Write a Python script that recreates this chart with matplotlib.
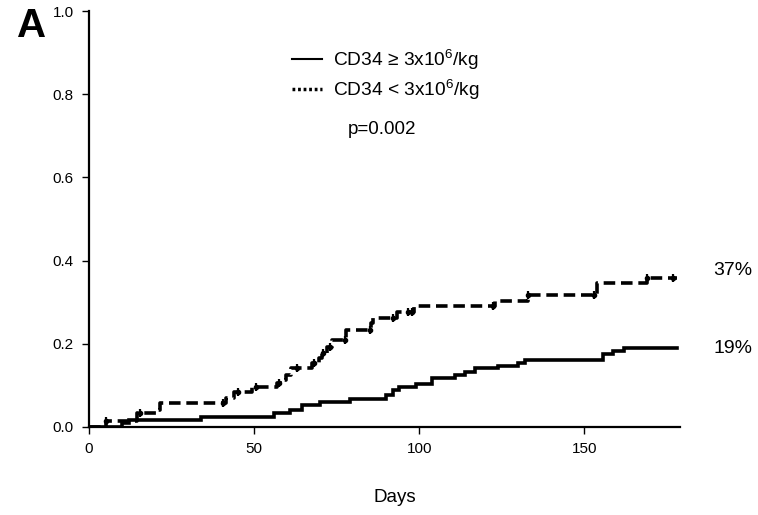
import matplotlib
matplotlib.use("Agg")
import matplotlib.pyplot as plt
import numpy as np
from matplotlib.lines import Line2D

plt.rcParams['font.family'] = ['Liberation Sans', 'DejaVu Sans']
plt.rcParams['mathtext.fontset'] = 'custom'
plt.rcParams['mathtext.rm'] = 'Liberation Sans'
plt.rcParams['mathtext.it'] = 'Liberation Sans'

# CD34 >= 3x10^6/kg (solid)
days_hi = [0, 10, 12, 34, 56, 61, 64.5, 70, 79, 90, 92, 94, 99, 104, 111, 114,
           117, 124, 130, 132, 155.7, 158.7, 162, 178]
inc_hi = [0, 0.009, 0.017, 0.025, 0.033, 0.04, 0.053, 0.06, 0.067, 0.077, 0.089,
          0.097, 0.103, 0.118, 0.125, 0.132, 0.141, 0.146, 0.154, 0.162, 0.175,
          0.183, 0.19, 0.19]

# CD34 < 3x10^6/kg (dashed)
days_lo = [0, 5, 14.5, 21, 21.5, 41.6, 44, 49.5, 57, 58.6, 59.6, 61.3, 67.6, 69.7,
           70.6, 72, 73.6, 77.8, 85.4, 86, 93.2, 98.3, 123, 133, 154, 169, 178]
inc_lo = [0, 0.014, 0.033, 0.04, 0.057, 0.069, 0.084, 0.097, 0.105, 0.112, 0.125,
          0.141, 0.153, 0.165, 0.178, 0.192, 0.208, 0.234, 0.249, 0.263, 0.276,
          0.29, 0.302, 0.318, 0.346, 0.358, 0.358]
# censored observations on the dashed curve
censor_lo = [5, 15.5, 40.5, 45, 50.5, 57.5, 63, 68, 71, 73, 77.5, 85, 92, 96.6,
             97.7, 122.5, 133, 153, 169, 177]

xticks = [0, 50, 100, 150]
yticks = [0.0, 0.2, 0.4, 0.6, 0.8, 1.0]

fig = plt.figure(figsize=(7.58, 5.15), dpi=100)
ax = fig.add_axes([89/758, 1-427/515, (680-89)/758, (427-11)/515])

ax.step(days_hi, inc_hi, where='post', color='black', lw=2.6, solid_joinstyle='miter')
ax.step(days_lo, inc_lo, where='post', color='black', lw=2.6,
        linestyle=(0, (3.2, 1.6)))

# censor marks
idx = np.searchsorted(days_lo, censor_lo, side='right') - 1
cy = np.array(inc_lo)[idx]
ax.plot(censor_lo, cy, linestyle='none', marker='|', ms=6, mew=1.6, color='black')
ax.plot(censor_lo, cy, linestyle='none', marker='o', ms=3, color='black')

ax.set_xlim(0, 179)
ax.set_ylim(0, 1.0)
ax.set_xticks(xticks)
ax.set_yticks(yticks)
ax.set_yticklabels(["%.1f" % v for v in yticks])
ax.spines['top'].set_visible(False)
ax.spines['right'].set_visible(False)
ax.spines['left'].set_linewidth(1.6)
ax.spines['bottom'].set_linewidth(1.6)
ax.tick_params(labelsize=11, length=5, width=1, pad=6)

ax.text(189, 0.376, "37%", fontsize=14, va='center', ha='left', clip_on=False)
ax.text(189, 0.189, "19%", fontsize=14, va='center', ha='left', clip_on=False)

handles = [Line2D([], [], color='black', lw=1.5),
           Line2D([], [], color='black', lw=2.5, linestyle=(0, (0.8, 0.8)))]
labels = ["CD34 \u2265 3x10$^6$/kg", "CD34 < 3x10$^6$/kg"]
fig.legend(handles, labels, loc='upper left', bbox_to_anchor=(292/758, 1-48/515),
           frameon=False, fontsize=13.8, borderpad=0, borderaxespad=0,
           handlelength=1.55, handletextpad=0.6, labelspacing=0.3)

fig.text(382/758, 1-130/515, "p=0.002", fontsize=13.5, ha='center', va='center')
fig.text(395/758, 1-497/515, "Days", fontsize=13.5, ha='center', va='center')
fig.text(17/758, 1-26/515, "A", fontsize=29, fontweight='bold', ha='left', va='center')

fig.savefig("out.png", dpi=100)
